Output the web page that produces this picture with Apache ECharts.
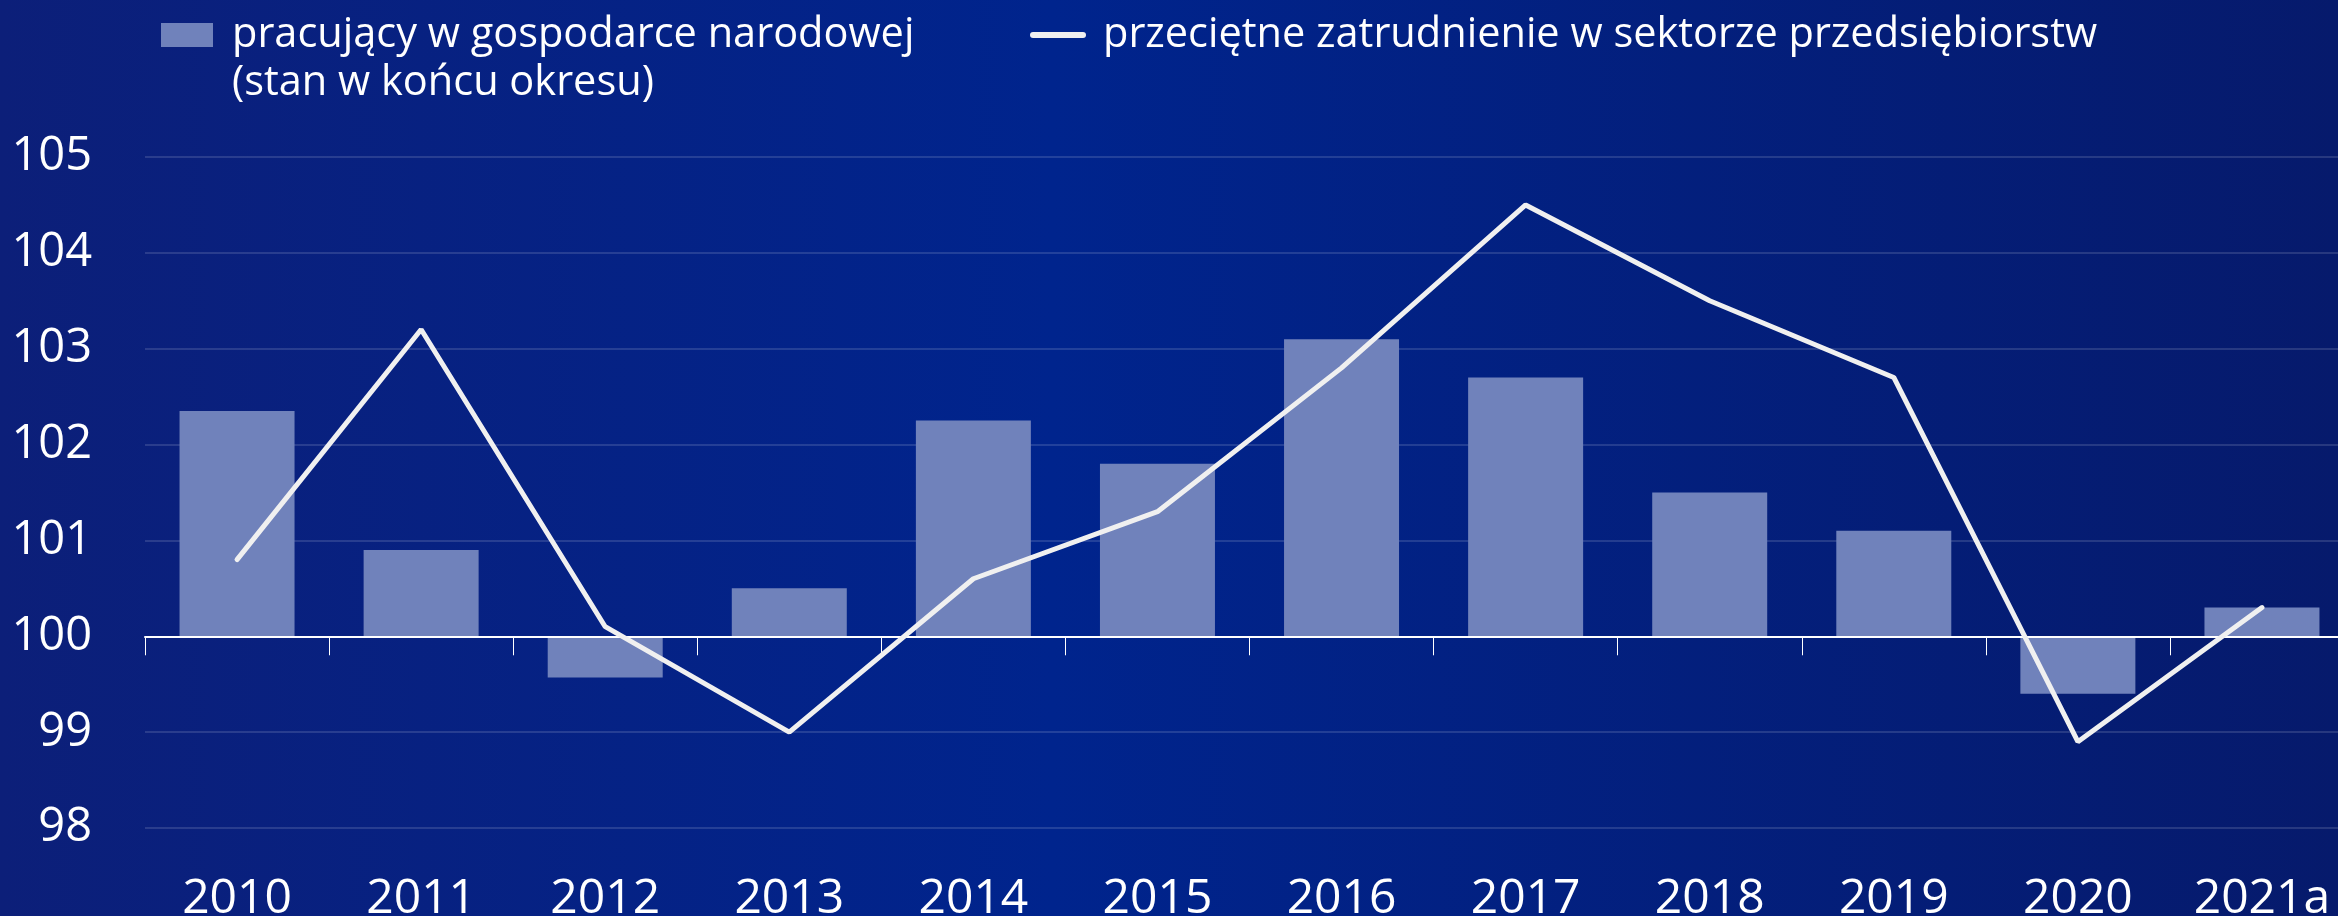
<!DOCTYPE html>
<html lang="pl">

<head>
    <meta charset="UTF-8">
    <title>Zatrudnienie</title>
    <style>
        html,
        body {
            height: 100%;
            width: 100%;
            margin: 0;
            padding: 0;
            overflow: hidden;
        }
    </style>
</head>

<body>
    <div id="main" style="width: 2338px;height:916px;"></div>
    <script src="https://cdn.jsdelivr.net/npm/echarts@6/dist/echarts.min.js"></script>
    <script type="text/javascript">
        // lata
        var years = ['2010', '2011', '2012', '2013', '2014', '2015', '2016', '2017', '2018', '2019', '2020', '2021a'];
        // pracujący w gospodarce narodowej (stan w końcu okresu), rok poprzedni = 100
        var pracujacy = [102.35, 100.9, 99.57, 100.5, 102.25, 101.8, 103.1, 102.7, 101.5, 101.1, 99.4, 100.3];
        // przeciętne zatrudnienie w sektorze przedsiębiorstw, rok poprzedni = 100
        var zatrudnienie = [100.8, 103.2, 100.1, 99.0, 100.6, 101.3, 102.8, 104.5, 103.5, 102.7, 98.9, 100.3];
        var yMin = 98, yMax = 105;
        var base = 100; // słupki rosną od 100

        var fontName = '"Open Sans", "Noto Sans", sans-serif';
        var myChart = echarts.init(document.getElementById('main'));

        function offset(arr) {
            return arr.map(function (v) { return +(v - base).toFixed(2); });
        }

        var barName = 'pracujący w gospodarce narodowej\n(stan w końcu okresu)';
        var lineName = 'przeciętne zatrudnienie w sektorze przedsiębiorstw';

        var option = {
            backgroundColor: {
                type: 'linear', x: 0, y: 0, x2: 1, y2: 0,
                colorStops: [
                    { offset: 0, color: '#0c1f79' },
                    { offset: 0.45, color: '#00248d' },
                    { offset: 1, color: '#061a6c' }
                ]
            },
            textStyle: { fontFamily: fontName },
            legend: [{
                // pusta linia na początku -> ikona na wysokości pierwszej linii tekstu
                left: 161,
                top: -37,
                padding: 0,
                itemWidth: 52,
                itemHeight: 24,
                formatter: function (name) { return '\n' + name; },
                textStyle: { color: '#fff', fontSize: 41.5, lineHeight: 48, fontFamily: fontName, padding: [0, 0, 0, 14] },
                data: [{ name: barName, icon: 'rect' }]
            }, {
                left: 1030,
                top: 11,
                padding: 0,
                itemWidth: 56,
                itemHeight: 6,
                textStyle: { color: '#fff', fontSize: 41.5, lineHeight: 48, fontFamily: fontName, padding: [0, 0, 0, 12] },
                data: [{
                    name: lineName,
                    icon: 'path://M3,0 H53 A3,3 0 0 1 53,6 H3 A3,3 0 0 1 3,0 Z',
                    itemStyle: { color: '#f0f0f0' }
                }]
            }],
            grid: {
                left: 145,
                right: -16,
                top: 157,
                bottom: 88,
                outerBoundsMode: 'none'
            },
            xAxis: [{
                type: 'category',
                data: years,
                position: 'bottom',
                axisLine: { show: false, onZero: false },
                axisTick: { show: false },
                axisLabel: { color: '#fff', fontSize: 48, margin: 47, fontFamily: fontName }
            }, {
                type: 'category',
                data: years,
                position: 'top',
                z: 5,
                axisLine: { show: true, onZero: true, lineStyle: { color: '#ffffff', width: 2 } },
                axisTick: { show: true, inside: true, length: 19, lineStyle: { color: '#ffffff', width: 1 } },
                axisLabel: { show: false }
            }],
            yAxis: {
                type: 'value',
                min: yMin - base,
                max: yMax - base,
                interval: 1,
                axisLine: { show: false },
                axisTick: { show: false },
                axisLabel: {
                    color: '#fff',
                    fontSize: 47,
                    margin: 53,
                    fontFamily: fontName,
                    formatter: function (v) { return String(v + base); }
                },
                splitLine: { lineStyle: { color: 'rgba(255,255,255,0.18)', width: 1.5 } }
            },
            series: [{
                name: barName,
                type: 'bar',
                xAxisIndex: 0,
                barWidth: 115,
                itemStyle: { color: '#7082bb' },
                data: offset(pracujacy)
            }, {
                name: lineName,
                type: 'line',
                xAxisIndex: 0,
                symbol: 'none',
                z: 6,
                lineStyle: { color: '#f0f0f0', width: 5, cap: 'round' },
                itemStyle: { color: '#f0f0f0' },
                data: offset(zatrudnienie)
            }]
        };
        myChart.setOption(option);
        window.addEventListener("resize", function () {
            myChart.resize();
        });
    </script>
</body>

</html>
